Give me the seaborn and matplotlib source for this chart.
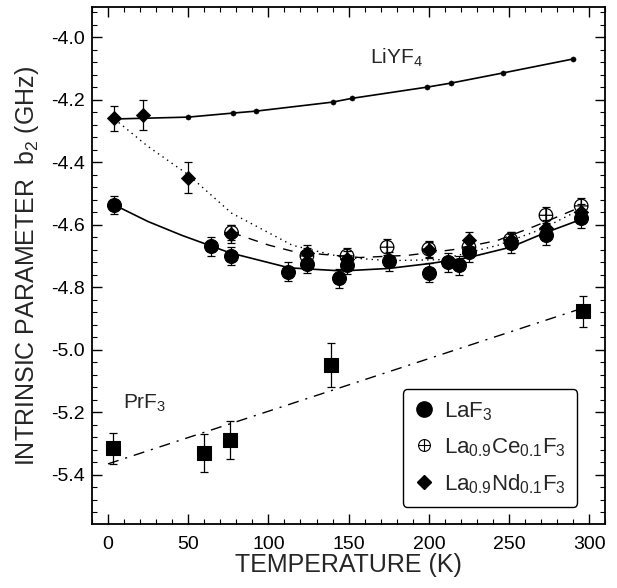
import matplotlib.pyplot as plt
import matplotlib.ticker as ticker
from matplotlib.lines import Line2D
from matplotlib.path import Path
import numpy as np
import pandas as pd
import seaborn as sns

# LaF3 (filled circles)
LAF3_T = [4, 64, 77, 112, 124, 144, 149, 175, 200, 212, 219, 225, 251, 273, 295]
LAF3_B = [-4.537, -4.669, -4.700, -4.750, -4.725, -4.772, -4.728, -4.717, -4.754,
          -4.720, -4.730, -4.688, -4.660, -4.634, -4.580]
LAF3_ERR = [0.03] * 15

# La0.9Ce0.1F3 (open circle with cross)
CE_T = [77, 124, 149, 174, 200, 225, 251, 273, 295]
CE_B = [-4.625, -4.700, -4.700, -4.672, -4.678, -4.672, -4.648, -4.570, -4.540]
CE_ERR = [0.025] * 9

# La0.9Nd0.1F3 (diamonds)
ND_T = [4, 22, 50, 77, 124, 149, 200, 225, 251, 273, 295]
ND_B = [-4.260, -4.250, -4.450, -4.630, -4.690, -4.710, -4.680, -4.650, -4.650, -4.610, -4.560]
ND_ERR = [0.04, 0.048, 0.05, 0.03, 0.025, 0.025, 0.025, 0.025, 0.025, 0.025, 0.025]

# PrF3 (squares)
PR_T = [3, 60, 76, 139, 296]
PR_B = [-5.315, -5.331, -5.288, -5.050, -4.877]
PR_ERR = [0.05, 0.06, 0.06, 0.07, 0.05]

# LiYF4 (small dots)
LI_T = [50, 78, 92, 140, 152, 199, 214, 246, 290]
LI_B = [-4.256, -4.243, -4.237, -4.208, -4.196, -4.160, -4.147, -4.115, -4.070]

# fitted curves
LI_FIT_T = [4, 50, 78, 92, 140, 152, 199, 214, 246, 290]
LI_FIT_B = [-4.262, -4.256, -4.243, -4.237, -4.208, -4.196, -4.160, -4.147, -4.115, -4.070]
LAF3_FIT_T = [4, 25, 46, 76, 113, 146, 175, 201, 224, 251, 272, 295]
LAF3_FIT_B = [-4.537, -4.590, -4.634, -4.690, -4.738, -4.748, -4.740, -4.724, -4.706,
              -4.672, -4.627, -4.583]
CE_FIT_T = [77, 100, 115, 134, 157, 187, 215, 243, 266, 295]
CE_FIT_B = [-4.625, -4.665, -4.685, -4.695, -4.705, -4.698, -4.680, -4.650, -4.605, -4.543]
ND_FIT_T = [4, 25, 50, 77, 115, 146, 175, 207, 243, 270, 295]
ND_FIT_B = [-4.262, -4.350, -4.440, -4.563, -4.666, -4.704, -4.715, -4.712, -4.666, -4.615, -4.550]
PR_FIT_T = [0, 300]
PR_FIT_B = [-5.365, -4.860]

sns.set_style('ticks')
plt.rcParams['font.family'] = ['Liberation Sans', 'DejaVu Sans']
plt.rcParams['mathtext.default'] = 'regular'

fig = plt.figure(figsize=(6.17, 5.88), dpi=100)
ax = fig.add_axes([0.149, 0.109, 0.832, 0.879])

# curves
sns.lineplot(x=LI_FIT_T, y=LI_FIT_B, ax=ax, color='black', lw=1.2)
sns.lineplot(x=LAF3_FIT_T, y=LAF3_FIT_B, ax=ax, color='black', lw=1.2)
sns.lineplot(x=CE_FIT_T, y=CE_FIT_B, ax=ax, color='black', lw=1.0, linestyle=(0, (7, 6)))
sns.lineplot(x=ND_FIT_T, y=ND_FIT_B, ax=ax, color='black', lw=1.0, linestyle=(0, (1, 3)))
sns.lineplot(x=PR_FIT_T, y=PR_FIT_B, ax=ax, color='black', lw=1.0, linestyle=(0, (8, 5, 1.5, 5)))

# error bars
for t, b, e in [(LAF3_T, LAF3_B, LAF3_ERR), (CE_T, CE_B, CE_ERR),
                (ND_T, ND_B, ND_ERR), (PR_T, PR_B, PR_ERR)]:
    ax.errorbar(t, b, yerr=e, fmt='none', ecolor='black', elinewidth=0.9, capsize=3, capthick=0.9)

ce_marker = Path.make_compound_path(
    Path.unit_circle(),
    Path([(-1, 0), (1, 0)], [Path.MOVETO, Path.LINETO]),
    Path([(0, -1), (0, 1)], [Path.MOVETO, Path.LINETO]),
)

sns.scatterplot(x=LI_T, y=LI_B, ax=ax, marker='o', s=14, color='black', edgecolor='black', zorder=3)
sns.scatterplot(x=PR_T, y=PR_B, ax=ax, marker='s', s=95, color='black', edgecolor='black', zorder=3)
sns.scatterplot(x=LAF3_T, y=LAF3_B, ax=ax, marker='o', s=100, color='black', edgecolor='black', zorder=3)
sns.scatterplot(x=ND_T, y=ND_B, ax=ax, marker='D', s=52, color='black', edgecolor='black', zorder=4)
sns.scatterplot(x=CE_T, y=CE_B, ax=ax, marker=ce_marker, s=95, facecolor='none',
                edgecolor='black', linewidth=0.9, zorder=5)

ax.set_xlim(-10, 310)
ax.set_ylim(-5.557, -3.904)
ax.xaxis.set_major_locator(ticker.MultipleLocator(50))
ax.xaxis.set_minor_locator(ticker.MultipleLocator(10))
ax.yaxis.set_major_locator(ticker.MultipleLocator(0.2))
ax.yaxis.set_minor_locator(ticker.MultipleLocator(0.04))
ax.yaxis.set_major_formatter(ticker.FormatStrFormatter('%.1f'))
ax.tick_params(which='both', direction='in', top=True, right=True, colors='black')
ax.tick_params(which='major', length=7, width=1.0, labelsize=14)
ax.tick_params(which='minor', length=3.5, width=0.8)
ax.tick_params(axis='x', which='major', pad=9)
ax.tick_params(axis='y', which='major', pad=5)
for sp in ax.spines.values():
    sp.set_linewidth(1.3)
    sp.set_color('black')

ax.set_xlabel('TEMPERATURE (K)', fontsize=18, labelpad=0)
ax.set_ylabel('INTRINSIC PARAMETER  b$_2$ (GHz)', fontsize=18, labelpad=7)

ax.text(180, -4.065, 'LiYF$_4$', fontsize=15, ha='center', va='center')
ax.text(23, -5.17, 'PrF$_3$', fontsize=15, ha='center', va='center')

handles = [
    Line2D([], [], marker='o', ls='none', color='black', markersize=11),
    Line2D([], [], marker=ce_marker, ls='none', markerfacecolor='none',
           markeredgecolor='black', markersize=8.5, markeredgewidth=0.8),
    Line2D([], [], marker='D', ls='none', color='black', markersize=7.5),
]
labels = ['LaF$_3$', 'La$_{0.9}$Ce$_{0.1}$F$_3$', 'La$_{0.9}$Nd$_{0.1}$F$_3$']
leg = ax.legend(handles, labels, loc='lower right', bbox_to_anchor=(0.945, 0.033),
                borderaxespad=0, fontsize=16, frameon=True, fancybox=True,
                handletextpad=0.45, handlelength=0.9, borderpad=0.5, labelspacing=0.6)
leg.get_frame().set_edgecolor('black')
leg.get_frame().set_linewidth(1.0)
leg.get_frame().set_alpha(1)

plt.savefig('out.png', dpi=100)
